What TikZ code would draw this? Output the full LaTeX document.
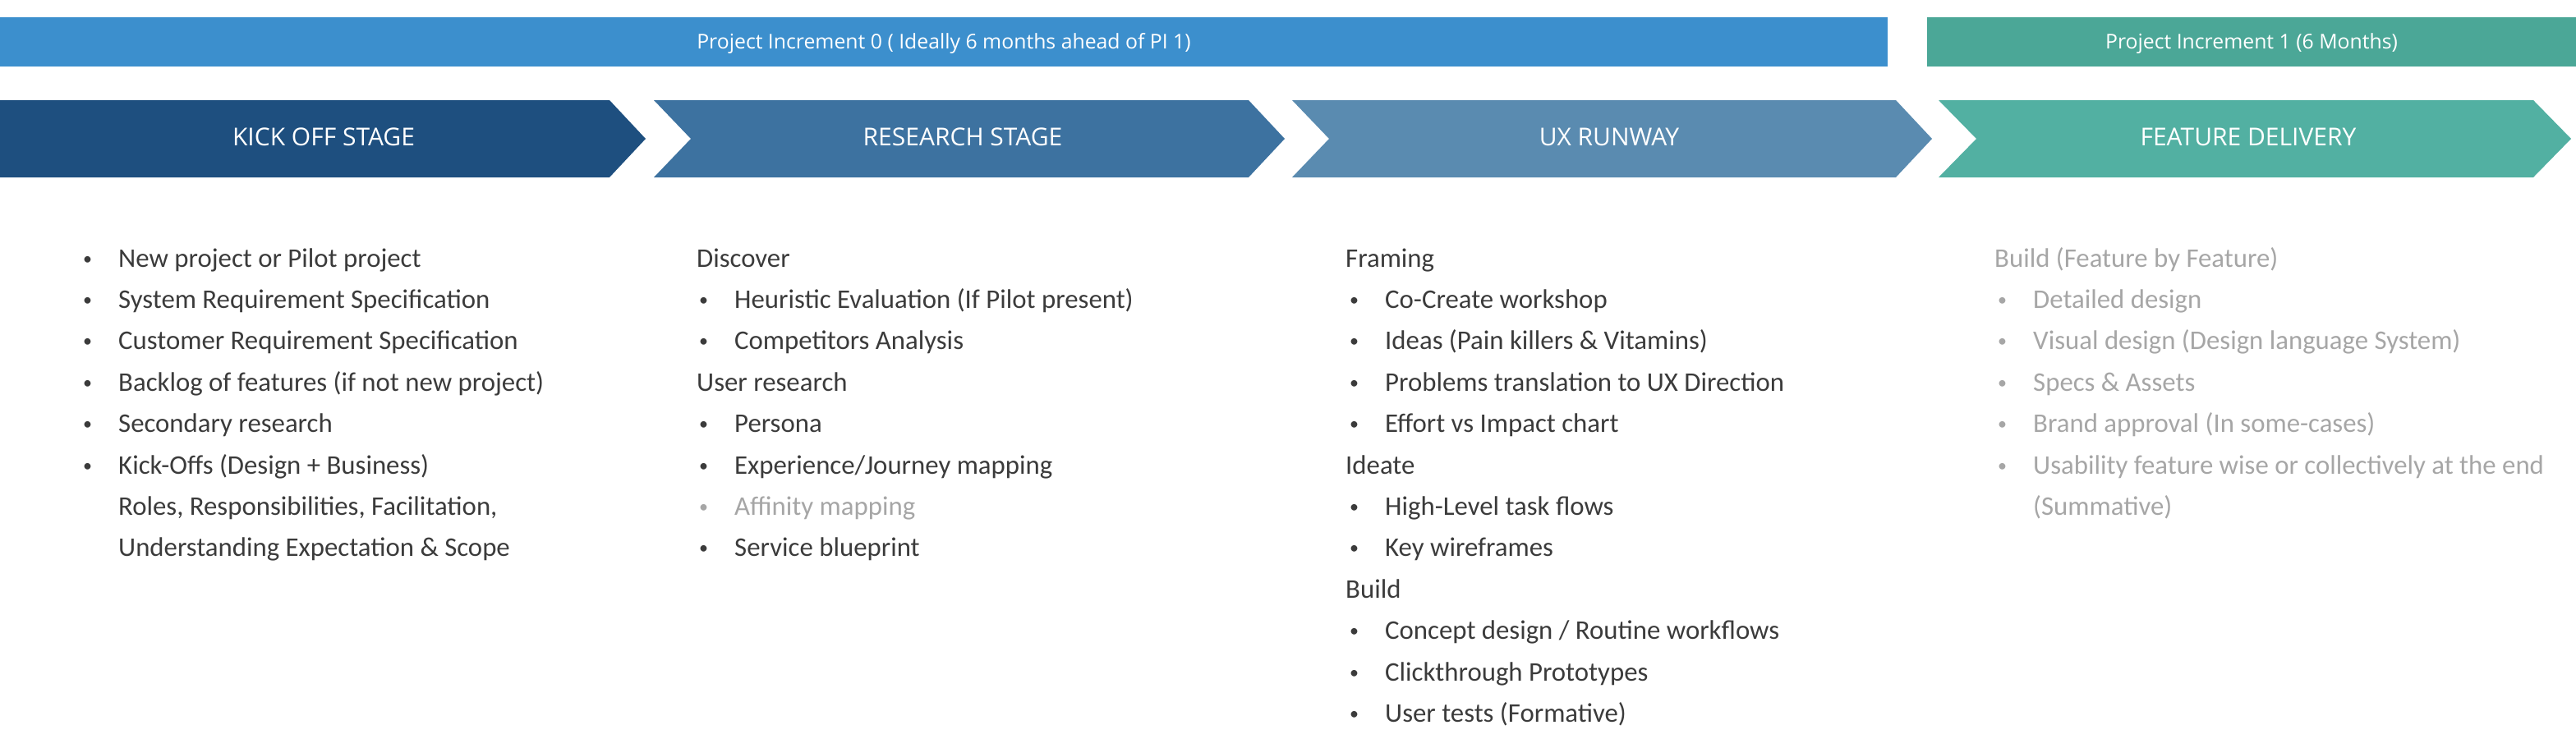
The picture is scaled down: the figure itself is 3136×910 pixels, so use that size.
\documentclass[tikz,border=0pt]{standalone}
\usepackage{fontspec}
\setmainfont{Carlito}
\newfontfamily\headfont{Open Sans}
\definecolor{pizero}{HTML}{3C8FCD}
\definecolor{pione}{HTML}{4BA797}
\definecolor{kick}{HTML}{1E4F7F}
\definecolor{research}{HTML}{3D72A0}
\definecolor{uxrun}{HTML}{5A8BB0}
\definecolor{feature}{HTML}{52B0A2}
\definecolor{txt}{HTML}{3B3B3B}
\definecolor{lighttxt}{HTML}{A6A6A6}
\tikzset{
  head/.style={anchor=base, inner sep=0pt, text=white, font=\headfont\fontsize{24.8}{24.8}\selectfont},
  stagelbl/.style={anchor=base, inner sep=0pt, text=white, font=\headfont\fontsize{30}{30}\selectfont},
  body/.style={anchor=base west, inner sep=0pt, text=txt, font=\fontsize{32.8}{32.8}\selectfont},
  faint/.style={body, text=lighttxt},
  dotsize/.style={font=\fontsize{22}{22}\selectfont}
}
\newcommand{\bitem}[5][body]{%
  \node[#1, dotsize] (#2b) at (#3-43,#4-3) {•};
  \node[#1] (#2) at (#3,#4) {#5};}
\begin{document}
\begin{tikzpicture}[x=1pt,y=-1pt]
\useasboundingbox (0,0) rectangle (3136,910);
% top bars
\fill[pizero] (0,21) rectangle (2298,81);
\fill[pione] (2346,21) rectangle (3136,81);
\node[head] (pi0) at (1149,59) {Project Increment 0 ( Ideally 6 months ahead of PI 1)};
\node[head] (pi1) at (2741,59) {Project Increment 1 (6 Months)};
% chevrons
\fill[kick] (0,122) -- (742,122) -- (786,169) -- (742,216) -- (0,216) -- cycle;
\fill[research] (796,122) -- (1520,122) -- (1564,169) -- (1520,216) -- (796,216) -- (841,169) -- cycle;
\fill[uxrun] (1573,122) -- (2308,122) -- (2352,169) -- (2308,216) -- (1573,216) -- (1618,169) -- cycle;
\fill[feature] (2360,122) -- (3084,122) -- (3130,169) -- (3084,216) -- (2360,216) -- (2406,169) -- cycle;
\node[stagelbl] (s1) at (394,177) {KICK OFF STAGE};
\node[stagelbl] (s2) at (1172,177) {RESEARCH STAGE};
\node[stagelbl] (s3) at (1959,177) {UX RUNWAY};
\node[stagelbl] (s4) at (2737,177) {FEATURE DELIVERY};
% column 1
\bitem{a1}{144}{325}{New project or Pilot project}
\bitem{a2}{144}{375.4}{System Requirement Specification}
\bitem{a3}{144}{425.8}{Customer Requirement Specification}
\bitem{a4}{144}{476.2}{Backlog of features (if not new project)}
\bitem{a5}{144}{526.6}{Secondary research}
\bitem{a6}{144}{577}{Kick-Offs (Design + Business)}
\node[body] (a7) at (144,627.4) {Roles, Responsibilities, Facilitation,};
\node[body] (a8) at (144,677.8) {Understanding Expectation \& Scope};
% column 2
\node[body] (r0) at (848,325) {Discover};
\bitem{r1}{894}{375.4}{Heuristic Evaluation (If Pilot present)}
\bitem{r2}{894}{425.8}{Competitors Analysis}
\node[body] (r3) at (848,476.2) {User research};
\bitem{r4}{894}{526.6}{Persona}
\bitem{r5}{894}{577}{Experience/Journey mapping}
\bitem[faint]{r6}{894}{627.4}{Affinity mapping}
\bitem{r7}{894}{677.8}{Service blueprint}
% column 3
\node[body] (u0) at (1638,325) {Framing};
\bitem{u1}{1686}{375.4}{Co-Create workshop}
\bitem{u2}{1686}{425.8}{Ideas (Pain killers \& Vitamins)}
\bitem{u3}{1686}{476.2}{Problems translation to UX Direction}
\bitem{u4}{1686}{526.6}{Effort vs Impact chart}
\node[body] (u5) at (1638,577) {Ideate};
\bitem{u6}{1686}{627.4}{High-Level task flows}
\bitem{u7}{1686}{677.8}{Key wireframes}
\node[body] (u8) at (1638,728.2) {Build};
\bitem{u9}{1686}{778.6}{Concept design / Routine workflows}
\bitem{u10}{1686}{829}{Clickthrough Prototypes}
\bitem{u11}{1686}{879.4}{User tests (Formative)}
% column 4
\node[faint] (f0) at (2428,325) {Build (Feature by Feature)};
\bitem[faint]{f1}{2475}{375.4}{Detailed design}
\bitem[faint]{f2}{2475}{425.8}{Visual design (Design language System)}
\bitem[faint]{f3}{2475}{476.2}{Specs \& Assets}
\bitem[faint]{f4}{2475}{526.6}{Brand approval (In some-cases)}
\bitem[faint]{f5}{2475}{577}{Usability feature wise or collectively at the end}
\node[faint] (f6) at (2475,627.4) {(Summative)};
\end{tikzpicture}
\end{document}
